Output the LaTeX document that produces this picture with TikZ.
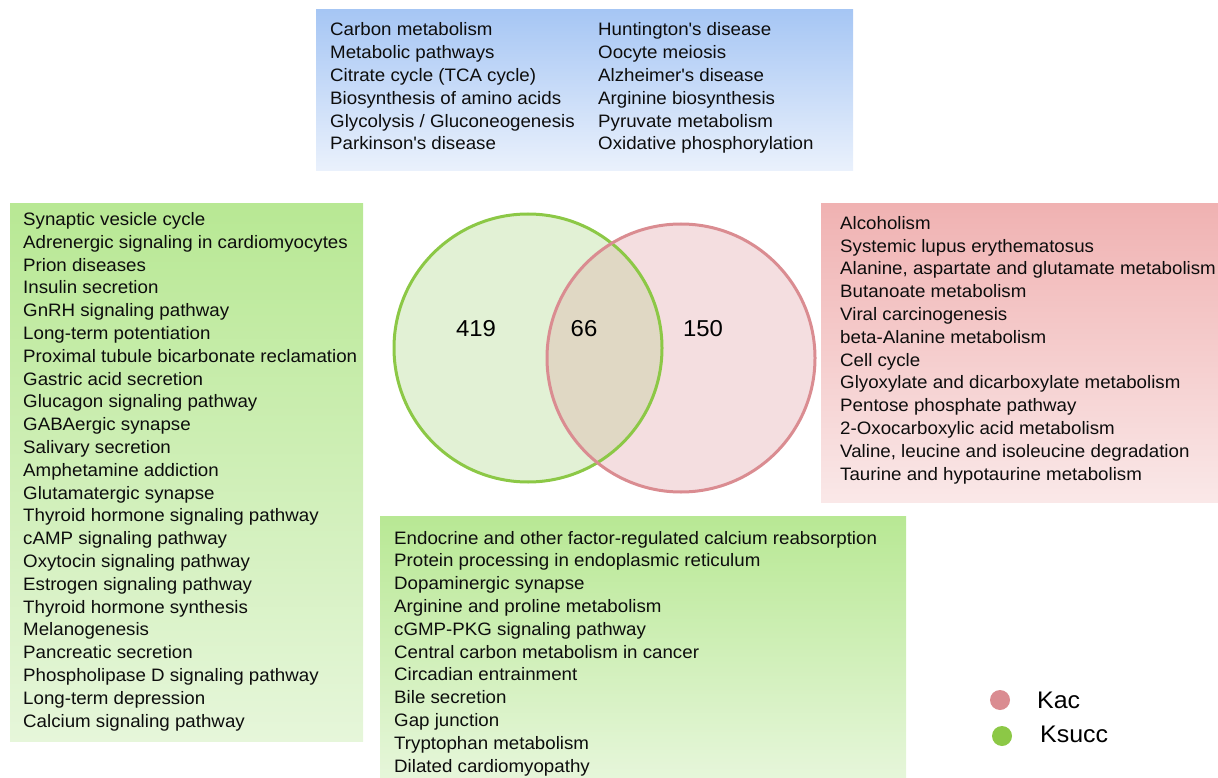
\documentclass[tikz,border=0pt]{standalone}
\usepackage{fontspec}
\setmainfont{Liberation Sans}[FakeStretch=1.04]
\definecolor{bluetop}{RGB}{166,198,244}
\definecolor{bluebot}{RGB}{234,241,252}
\definecolor{greentop}{RGB}{184,232,148}
\definecolor{greenbot}{RGB}{230,246,218}
\definecolor{pinktop}{RGB}{240,178,178}
\definecolor{pinkbot}{RGB}{250,232,232}
\definecolor{ksuccline}{RGB}{140,200,70}
\definecolor{kacline}{RGB}{218,140,145}
\definecolor{ksuccfill}{RGB}{226,241,213}
\definecolor{kacfill}{RGB}{244,222,224}
\definecolor{bothfill}{RGB}{224,216,196}
\newcommand{\apos}{\textquotesingle}
\begin{document}
\begin{tikzpicture}[x=1pt,y=-1pt,
    list/.style={anchor=base west,align=left,inner sep=0pt,font=\fontsize{18}{22.8}\selectfont,text=black!95},
    count/.style={inner sep=0pt,font=\fontsize{23}{26}\selectfont,text=black},
    legend/.style={anchor=west,inner sep=0pt,font=\fontsize{24}{28}\selectfont,text=black}]
    \useasboundingbox (0,0) rectangle (1218,778);
    % boxes
    \shade[top color=bluetop,bottom color=bluebot] (316,10) rectangle (853,171);
    \shade[top color=greentop,bottom color=greenbot] (10,204) rectangle (363,741);
    \shade[top color=pinktop,bottom color=pinkbot] (821,204) rectangle (1218,502);
    \shade[top color=greentop,bottom color=greenbot] (380,516) rectangle (906,778);
    % shared pathways (anchored at last baseline)
    \node[list] (bothA) at (330,150) {Carbon metabolism\\Metabolic pathways\\Citrate cycle (TCA cycle)\\Biosynthesis of amino acids\\Glycolysis / Gluconeogenesis\\Parkinson\apos s disease};
    \node[list] (bothB) at (598,150) {Huntington\apos s disease\\Oocyte meiosis\\Alzheimer\apos s disease\\Arginine biosynthesis\\Pyruvate metabolism\\Oxidative phosphorylation};
    % ksucc pathways
    \node[list] (succA) at (23,727) {Synaptic vesicle cycle\\Adrenergic signaling in cardiomyocytes\\Prion diseases\\Insulin secretion\\GnRH signaling pathway\\Long-term potentiation\\Proximal tubule bicarbonate reclamation\\Gastric acid secretion\\Glucagon signaling pathway\\GABAergic synapse\\Salivary secretion\\Amphetamine addiction\\Glutamatergic synapse\\Thyroid hormone signaling pathway\\cAMP signaling pathway\\Oxytocin signaling pathway\\Estrogen signaling pathway\\Thyroid hormone synthesis\\Melanogenesis\\Pancreatic secretion\\Phospholipase D signaling pathway\\Long-term depression\\Calcium signaling pathway};
    \node[list] (succB) at (394,772) {Endocrine and other factor-regulated calcium reabsorption\\Protein processing in endoplasmic reticulum\\Dopaminergic synapse\\Arginine and proline metabolism\\cGMP-PKG signaling pathway\\Central carbon metabolism in cancer\\Circadian entrainment\\Bile secretion\\Gap junction\\Tryptophan metabolism\\Dilated cardiomyopathy};
    % kac pathways
    \node[list] (kacA) at (840,480) {Alcoholism\\Systemic lupus erythematosus\\Alanine, aspartate and glutamate metabolism\\Butanoate metabolism\\Viral carcinogenesis\\beta-Alanine metabolism\\Cell cycle\\Glyoxylate and dicarboxylate metabolism\\Pentose phosphate pathway\\2-Oxocarboxylic acid metabolism\\Valine, leucine and isoleucine degradation\\Taurine and hypotaurine metabolism};
    % venn
    \coordinate (succ) at (528,348);
    \coordinate (kac) at (681,358);
    \fill[ksuccfill] (succ) circle[radius=134pt];
    \fill[kacfill] (kac) circle[radius=134pt];
    \begin{scope}
        \clip (succ) circle[radius=134pt];
        \fill[bothfill] (kac) circle[radius=134pt];
    \end{scope}
    \draw[line width=3pt,ksuccline] (succ) circle[radius=134pt];
    \draw[line width=3pt,kacline] (kac) circle[radius=134pt];
    \node[count] (nsucc) at (476,329) {419};
    \node[count] (nboth) at (584,329) {66};
    \node[count] (nkac) at (703,329) {150};
    % legend
    \fill[kacline] (1000,700) circle[radius=10pt];
    \node[legend] (lkac) at (1037,700) {Kac};
    \fill[ksuccline] (1002,736) circle[radius=10pt];
    \node[legend] (lsucc) at (1040,734) {Ksucc};
\end{tikzpicture}
\end{document}
